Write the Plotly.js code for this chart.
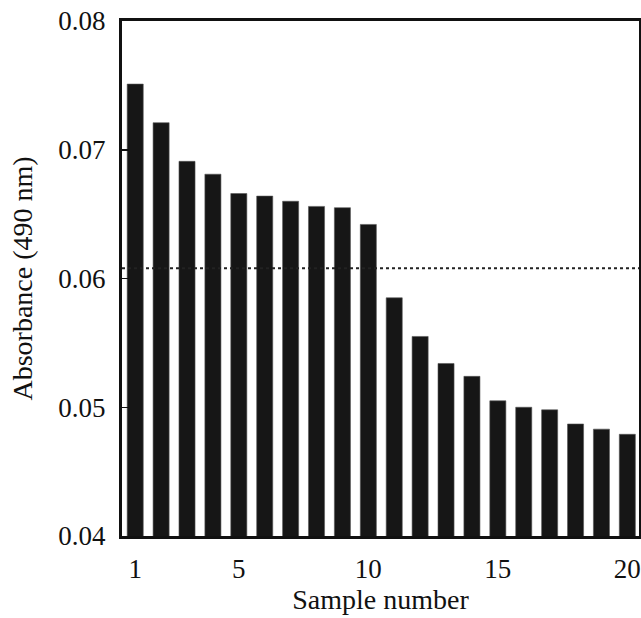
<!DOCTYPE html>
<html>
<head>
<meta charset="utf-8">
<script src="https://cdn.plot.ly/plotly-3.0.1.min.js"></script>
<style>html,body{margin:0;padding:0;background:#fff;}#chart{width:641px;height:618px;}</style>
</head>
<body>
<div id="chart"></div>
<script>
const samples = [1,2,3,4,5,6,7,8,9,10,11,12,13,14,15,16,17,18,19,20];
const absorbance = [0.0751,0.0721,0.0691,0.0681,0.0666,0.0664,0.0660,0.0656,0.0655,0.0642,
                    0.0585,0.0555,0.0534,0.0524,0.0505,0.0500,0.0498,0.0487,0.0483,0.0479];
const cutoff = 0.0608;
const xTicks = [1,5,10,15,20];
const yTicks = [0.04,0.05,0.06,0.07,0.08];

const font = 'Liberation Serif, Times New Roman, serif';
const data = [{
  type: 'bar',
  x: samples,
  y: absorbance,
  width: 0.62,
  marker: {color: '#161616', line: {color: '#555', width: 0.6}},
  hoverinfo: 'x+y'
}];
const layout = {
  width: 641, height: 618,
  margin: {l: 122, r: 2, t: 21, b: 82},
  paper_bgcolor: '#fff', plot_bgcolor: '#fff',
  showlegend: false,
  font: {family: font, color: '#111', size: 27},
  xaxis: {
    range: [0.49, 20.45],
    tickvals: xTicks, ticktext: xTicks.map(String),
    ticks: '', showgrid: false, zeroline: false,
    showline: true, linecolor: '#111', linewidth: 3, mirror: true,
    tickfont: {family: font, size: 27, color: '#111'},
    ticklabelstandoff: 7,
    title: {text: 'Sample number', font: {family: font, size: 28, color: '#111'}, standoff: 4}
  },
  yaxis: {
    range: [0.04, 0.08],
    tickvals: yTicks, ticktext: ['0.04','0.05','0.06','0.07','0.08'],
    ticks: 'inside', ticklen: 7, tickwidth: 1.5, tickcolor: '#111',
    showgrid: false, zeroline: false,
    showline: true, linecolor: '#111', linewidth: 3, mirror: true,
    tickfont: {family: font, size: 27, color: '#111'},
    ticklabelstandoff: 8,
    title: {text: 'Absorbance (490 nm)', font: {family: font, size: 28, color: '#111'}, standoff: 18}
  },
  shapes: [{
    type: 'line', xref: 'paper', yref: 'y',
    x0: 0, x1: 1, y0: cutoff, y1: cutoff,
    line: {color: '#222', width: 2, dash: 'dot'}
  }]
};
Plotly.newPlot('chart', data, layout, {displayModeBar: false, staticPlot: true});
</script>
</body>
</html>
